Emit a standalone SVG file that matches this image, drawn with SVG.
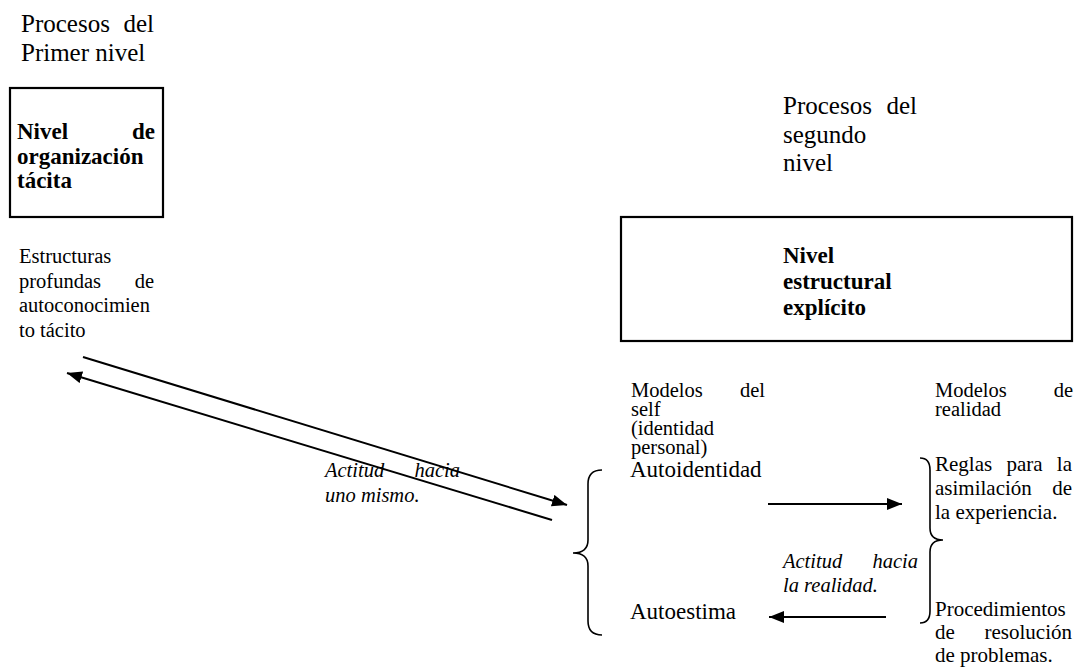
<svg xmlns="http://www.w3.org/2000/svg" width="1075" height="668" viewBox="0 0 1075 668">
  <style>
    text { font-family: "Liberation Serif", "Times New Roman", serif; fill: #000; }
    .title { font-size: 25px; }
    .bold { font-size: 23px; font-weight: bold; }
    .small { font-size: 20.5px; }
    .tight { font-size: 19.5px; }
    .mid { font-size: 23px; }
    .col { font-size: 21px; }
    .it { font-size: 20.5px; font-style: italic; }
    .box { fill: #fff; stroke: #000; stroke-width: 2.2; }
    .conn { stroke: #000; stroke-width: 2; fill: none; }
    .brace { stroke: #000; stroke-width: 1.6; fill: none; }
  </style>
  <defs>
    <marker id="arrow" markerUnits="userSpaceOnUse" markerWidth="16" markerHeight="12" refX="15" refY="6" orient="auto">
      <path d="M0,0 L15,6 L0,12 z" fill="#000"/>
    </marker>
  </defs>

  <!-- first-level processes -->
  <g id="title-first" font-family="Liberation Serif, serif">
    <text class="title" x="21" y="32">Procesos</text>
    <text class="title" x="154" y="32" text-anchor="end">del</text>
    <text class="title" x="21" y="61">Primer nivel</text>
  </g>

  <g id="tacit-level" font-family="Liberation Serif, serif">
    <rect class="box" x="10" y="88" width="153" height="129"/>
    <text class="bold" x="17" y="139">Nivel</text>
    <text class="bold" x="155" y="139" text-anchor="end">de</text>
    <text class="bold" x="17" y="163.5">organización</text>
    <text class="bold" x="17" y="188">tácita</text>
  </g>

  <g id="deep-structures" font-family="Liberation Serif, serif">
    <text class="small" x="19" y="263">Estructuras</text>
    <text class="small" x="19" y="288">profundas</text>
    <text class="small" x="154" y="288" text-anchor="end">de</text>
    <text class="small" x="19" y="312">autoconocimien</text>
    <text class="small" x="19" y="337">to tácito</text>
  </g>

  <!-- second-level processes -->
  <g id="title-second" font-family="Liberation Serif, serif">
    <text class="title" x="783" y="114">Procesos</text>
    <text class="title" x="917" y="114" text-anchor="end">del</text>
    <text class="title" x="783" y="143">segundo</text>
    <text class="title" x="783" y="171">nivel</text>
  </g>

  <g id="explicit-level" font-family="Liberation Serif, serif">
    <rect class="box" x="621" y="217" width="451" height="124"/>
    <text class="bold" x="783" y="263">Nivel</text>
    <text class="bold" x="783" y="289">estructural</text>
    <text class="bold" x="783" y="315">explícito</text>
  </g>

  <g id="self-models" font-family="Liberation Serif, serif">
    <text class="small" x="631" y="397">Modelos</text>
    <text class="small" x="765" y="397" text-anchor="end">del</text>
    <text class="small" x="631" y="416">self</text>
    <text class="small" x="631" y="435">(identidad</text>
    <text class="small" x="631" y="454">personal)</text>
  </g>

  <g id="reality-models" font-family="Liberation Serif, serif">
    <text class="small" x="935" y="397">Modelos</text>
    <text class="small" x="1073" y="397" text-anchor="end">de</text>
    <text class="small" x="935" y="416">realidad</text>
  </g>

  <g id="self-items" font-family="Liberation Serif, serif">
    <path class="brace" d="M602,470 Q588,470 588,484 L588,540 Q588,553 573,553 Q588,553 588,566 L588,621 Q588,635 602,635"/>
    <text class="mid" x="630" y="477">Autoidentidad</text>
    <text class="mid" x="630" y="619">Autoestima</text>
  </g>

  <g id="reality-items" font-family="Liberation Serif, serif">
    <path class="brace" d="M920,458 Q930,458 930,470 L930,528 Q930,540 943,540 Q930,540 930,552 L930,611 Q930,623 920,623"/>
    <text class="col" x="935" y="471">Reglas</text>
    <text class="col" x="1006.5" y="471">para</text>
    <text class="col" x="1072" y="471" text-anchor="end">la</text>
    <text class="col" x="935" y="495">asimilación</text>
    <text class="col" x="1072" y="495" text-anchor="end">de</text>
    <text class="col" x="935" y="519">la experiencia.</text>
    <text class="col" x="935" y="616">Procedimientos</text>
    <text class="col" x="935" y="639">de</text>
    <text class="col" x="1072" y="639" text-anchor="end">resolución</text>
    <text class="col" x="935" y="662">de problemas.</text>
  </g>

  <!-- connectors -->
  <g id="connectors">
    <line class="conn" x1="83" y1="357" x2="567" y2="505" marker-end="url(#arrow)"/>
    <line class="conn" x1="552" y1="520" x2="67" y2="373" marker-end="url(#arrow)"/>
    <line class="conn" x1="768" y1="504" x2="902" y2="504" marker-end="url(#arrow)"/>
    <line class="conn" x1="886" y1="617" x2="769" y2="617" marker-end="url(#arrow)"/>
  </g>

  <g id="connector-labels" font-family="Liberation Serif, serif">
    <text class="it" x="325" y="477">Actitud</text>
    <text class="it" x="460" y="477" text-anchor="end">hacia</text>
    <text class="it" x="325" y="502">uno mismo.</text>
    <text class="it" x="783" y="568">Actitud</text>
    <text class="it" x="918" y="568" text-anchor="end">hacia</text>
    <text class="it" x="783" y="592">la realidad.</text>
  </g>
</svg>
